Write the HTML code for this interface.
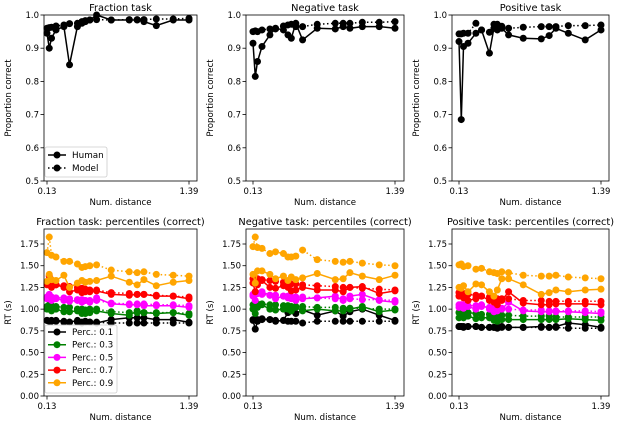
<!DOCTYPE html>
<html><head><meta charset="utf-8">
<style>
html,body{margin:0;padding:0;background:#fff;}
svg{display:block;font-family:"DejaVu Sans","Liberation Sans",sans-serif;}
</style></head>
<body>
<svg id="fig" width="621" height="423" viewBox="0 0 621 423" xmlns="http://www.w3.org/2000/svg"></svg>
<script>
const distances=[0.13,0.15,0.17,0.21,0.28,0.33,0.40,0.44,0.47,0.51,0.57,0.70,0.86,0.93,0.99,1.10,1.25,1.39];
const taskTitles=["Fraction task","Negative task","Positive task"];
const accTicks=[0.5,0.6,0.7,0.8,0.9,1.0];
const rtTicks=[0,0.25,0.5,0.75,1.0,1.25,1.5,1.75];
const percLabels=["0.1","0.3","0.5","0.7","0.9"];
const percColors=["#000000","#008000","#ff00ff","#ff0000","#ffa500"];
const fracHuman=[0.945,0.90,0.93,0.955,0.965,0.85,0.965,0.975,0.98,0.985,1.0,0.985,0.985,0.985,0.98,0.968,0.985,0.985];
const fracModel=[0.96,0.962,0.963,0.967,0.97,0.974,0.975,0.98,0.983,0.985,0.986,0.985,0.986,0.986,0.986,0.988,0.988,0.99];
const negHuman=[0.915,0.815,0.86,0.905,0.94,0.96,0.955,0.94,0.93,0.975,0.925,0.96,0.958,0.965,0.96,0.965,0.965,0.96];
const negModel=[0.95,0.952,0.95,0.955,0.958,0.958,0.967,0.97,0.972,0.965,0.965,0.972,0.975,0.975,0.975,0.978,0.978,0.98];
const posHuman=[0.92,0.685,0.905,0.915,0.945,0.955,0.885,0.96,0.955,0.96,0.94,0.93,0.928,0.938,0.96,0.945,0.925,0.955];
const posModel=[0.943,0.943,0.945,0.945,0.975,0.955,0.948,0.972,0.972,0.966,0.96,0.963,0.965,0.965,0.965,0.968,0.968,0.97];
const fracRtHuman=[
[0.87,0.86,0.87,0.87,0.86,0.85,0.87,0.84,0.86,0.85,0.84,0.88,0.90,0.90,0.90,0.88,0.88,0.85],
[1.00,1.05,0.98,1.0,0.97,0.97,0.98,0.95,0.95,0.96,0.98,0.95,0.93,0.98,0.96,0.95,0.96,0.93],
[1.12,1.17,1.1,1.12,1.10,1.09,1.10,1.08,1.10,1.08,1.13,1.06,1.05,1.05,1.04,1.04,1.04,1.02],
[1.28,1.38,1.25,1.28,1.25,1.20,1.22,1.19,1.20,1.20,1.21,1.17,1.16,1.17,1.17,1.15,1.15,1.12],
[1.32,1.40,1.34,1.33,1.39,1.25,1.30,1.33,1.31,1.32,1.33,1.38,1.31,1.28,1.34,1.27,1.31,1.33]];
const fracRtModel=[
[0.87,0.86,0.86,0.86,0.85,0.85,0.85,0.85,0.85,0.85,0.85,0.84,0.84,0.84,0.84,0.84,0.84,0.84],
[1.03,1.03,1.04,1.03,1.02,1.02,1.0,1.0,0.99,1.0,1.0,0.97,0.96,0.96,0.96,0.96,0.96,0.95],
[1.14,1.14,1.14,1.13,1.13,1.12,1.11,1.11,1.10,1.10,1.10,1.07,1.06,1.06,1.06,1.05,1.05,1.04],
[1.30,1.30,1.29,1.28,1.27,1.26,1.25,1.24,1.23,1.22,1.22,1.19,1.18,1.17,1.17,1.16,1.15,1.14],
[1.65,1.83,1.62,1.60,1.55,1.55,1.52,1.48,1.49,1.50,1.51,1.45,1.43,1.42,1.43,1.40,1.39,1.38]];
const negRtHuman=[
[0.87,0.77,0.86,0.88,0.88,0.86,0.87,0.96,0.99,0.95,0.99,0.93,0.98,0.92,0.97,1.0,0.93,0.87],
[1.00,0.95,1.02,1.05,1.0,0.99,1.0,1.0,0.98,1.02,0.98,1.0,0.98,0.98,1.00,1.03,0.97,0.99],
[1.15,1.10,1.18,1.20,1.16,1.12,1.15,1.13,1.12,1.10,1.12,1.13,1.15,1.10,1.15,1.17,1.10,1.08],
[1.30,1.20,1.28,1.33,1.25,1.24,1.27,1.25,1.21,1.22,1.25,1.22,1.22,1.20,1.25,1.26,1.18,1.21],
[1.40,1.30,1.44,1.44,1.40,1.35,1.38,1.33,1.37,1.34,1.36,1.41,1.34,1.35,1.42,1.38,1.34,1.39]];
const negRtModel=[
[0.88,0.88,0.88,0.89,0.88,0.87,0.87,0.86,0.86,0.86,0.84,0.86,0.86,0.86,0.86,0.86,0.86,0.86],
[1.05,1.05,1.06,1.06,1.05,1.05,1.04,1.04,1.03,1.03,1.03,1.02,1.02,1.01,1.01,1.01,1.00,1.00],
[1.17,1.17,1.18,1.17,1.16,1.16,1.15,1.15,1.14,1.14,1.14,1.13,1.12,1.12,1.12,1.11,1.11,1.10],
[1.35,1.35,1.35,1.34,1.33,1.32,1.31,1.30,1.29,1.29,1.28,1.27,1.26,1.25,1.25,1.24,1.23,1.22],
[1.72,1.83,1.71,1.70,1.64,1.66,1.64,1.60,1.60,1.61,1.68,1.57,1.55,1.54,1.55,1.53,1.51,1.50]];
const posRtHuman=[
[0.80,0.80,0.79,0.80,0.80,0.79,0.79,0.79,0.78,0.80,0.79,0.79,0.80,0.79,0.80,0.84,0.82,0.79],
[0.90,0.95,0.90,0.92,0.89,0.90,0.90,0.87,0.86,0.88,0.88,0.88,0.88,0.88,0.88,0.89,0.88,0.87],
[1.02,1.05,1.01,1.03,1.00,1.05,1.00,0.97,0.98,1.00,1.08,0.98,0.97,0.97,0.97,0.97,0.96,0.95],
[1.15,1.18,1.13,1.10,1.12,1.15,1.10,1.08,1.05,1.10,1.20,1.07,1.05,1.05,1.06,1.06,1.06,1.05],
[1.25,1.24,1.27,1.20,1.29,1.28,1.20,1.15,1.22,1.35,1.35,1.28,1.17,1.19,1.22,1.20,1.22,1.23]];
const posRtModel=[
[0.80,0.80,0.80,0.80,0.80,0.79,0.79,0.79,0.79,0.79,0.79,0.79,0.79,0.79,0.79,0.78,0.78,0.78],
[0.96,0.96,0.96,0.96,0.95,0.94,0.94,0.93,0.93,0.93,0.93,0.92,0.92,0.92,0.91,0.91,0.91,0.91],
[1.05,1.05,1.05,1.04,1.04,1.03,1.02,1.02,1.01,1.01,1.00,0.99,0.99,0.98,0.98,0.98,0.98,0.97],
[1.19,1.19,1.18,1.17,1.16,1.15,1.14,1.13,1.12,1.12,1.12,1.10,1.10,1.09,1.09,1.09,1.09,1.09],
[1.51,1.52,1.49,1.50,1.46,1.47,1.43,1.42,1.41,1.43,1.42,1.39,1.38,1.38,1.39,1.37,1.36,1.35]];

const svg=document.getElementById('fig');
const NS="http://www.w3.org/2000/svg";
function mk(tag,attrs,parent){const e=document.createElementNS(NS,tag);for(const k in attrs)e.setAttribute(k,attrs[k]);(parent||svg).appendChild(e);return e;}
function txt(x,y,s,size,anchor,parent,rot){const t=mk('text',{x:x,y:y,'font-size':size,'text-anchor':anchor||'middle',fill:'#000'},parent);if(rot)t.setAttribute('transform','rotate(-90 '+x+' '+y+')');t.textContent=s;return t;}

const panelsX=[{l:44,r:197,x0:47,x1:189},{l:246,r:404,x0:253,x1:395},{l:452,r:609,x0:459,x1:601}];
const accData=[[fracHuman,fracModel],[negHuman,negModel],[posHuman,posModel]];
const rtData=[[fracRtHuman,fracRtModel],[negRtHuman,negRtModel],[posRtHuman,posRtModel]];
const slugs=["fraction","negative","positive"];

function drawSeries(g,xs,ys,xf,yf,color,dotted,name){
  const pts=xs.map((d,i)=>xf(d).toFixed(1)+','+yf(ys[i]).toFixed(1)).join(' ');
  const pl=mk('polyline',{points:pts,fill:'none',stroke:color,'stroke-width':1.5},g);
  if(dotted)pl.setAttribute('stroke-dasharray','1.5,2.5');
  
  
  xs.forEach((d,i)=>{
    const c=mk('circle',{cx:xf(d),cy:yf(ys[i]),r:3.5,fill:color},g);
    
    
  });
}

function axesFrame(g,P,top,bot,ticks,yf,fmt,title,ylab){
  txt((P.l+P.r)/2,top-4,title,9.8,'middle',g);
  ticks.forEach(t=>{
    const y=yf(t);
    mk('line',{x1:P.l-3.5,x2:P.l,y1:y,y2:y,stroke:'#000','stroke-width':0.8},g);
    txt(P.l-5,y+3,fmt(t),8.5,'end',g);
  });
  [[P.x0,'0.13'],[P.x1,'1.39']].forEach(([x,s])=>{
    mk('line',{x1:x,x2:x,y1:bot,y2:bot+3.5,stroke:'#000','stroke-width':0.8},g);
    txt(x,bot+13,s,8.5,'middle',g);
  });
  txt((P.l+P.r)/2,bot+24,'Num. distance',8.6,'middle',g);
  txt(P.l-33,(top+bot)/2,ylab,8.6,'middle',g,true);
}

for(let p=0;p<3;p++){
  const P=panelsX[p];const top=15,bot=181;
  const g=mk('g',{});
  
  
  const xf=d=>P.x0+(d-0.13)/(1.39-0.13)*(P.x1-P.x0);
  const yf=v=>bot-(v-0.5)/0.5*(bot-top);
  axesFrame(g,P,top,bot,accTicks,yf,t=>t.toFixed(1),taskTitles[p],'Proportion correct');
  drawSeries(g,distances,accData[p][1],xf,yf,'#000',true,'model-accuracy');
  drawSeries(g,distances,accData[p][0],xf,yf,'#000',false,'human-accuracy');
  mk('rect',{x:P.l,y:top,width:P.r-P.l,height:bot-top,fill:'none',stroke:'#000','stroke-width':0.8},g);
}
for(let p=0;p<3;p++){
  const P=panelsX[p];const top=229,bot=396;
  const g=mk('g',{});
  
  
  const xf=d=>P.x0+(d-0.13)/(1.39-0.13)*(P.x1-P.x0);
  const yf=v=>bot-v/1.75*(bot-244);
  axesFrame(g,P,top,bot,rtTicks,yf,t=>t.toFixed(2),taskTitles[p]+': percentiles (correct)','RT (s)');
  for(let k=0;k<5;k++){
    drawSeries(g,distances,rtData[p][1][k],xf,yf,percColors[k],true,'model-rt-p'+percLabels[k]);
    drawSeries(g,distances,rtData[p][0][k],xf,yf,percColors[k],false,'human-rt-p'+percLabels[k]);
  }
  mk('rect',{x:P.l,y:top,width:P.r-P.l,height:bot-top,fill:'none',stroke:'#000','stroke-width':0.8},g);
}
const lg1=mk('g',{});


mk('rect',{x:45,y:147,width:62,height:30,rx:2,fill:'#fff','fill-opacity':0.85,stroke:'#ccc','stroke-width':0.8},lg1);
[['Human',false],['Model',true]].forEach(([s,d],i)=>{
  const y=155+i*13;
  const l=mk('line',{x1:48,x2:66,y1:y,y2:y,stroke:'#000','stroke-width':1.5},lg1);
  if(d)l.setAttribute('stroke-dasharray','1.5,2.5');
  mk('circle',{cx:57,cy:y,r:3.5,fill:'#000'},lg1);
  const t=txt(72,y+3,s,8.8,'start',lg1);
  
});
const lg2=mk('g',{});


mk('rect',{x:45,y:325,width:72,height:68,rx:2,fill:'#fff','fill-opacity':0.85,stroke:'#ccc','stroke-width':0.8},lg2);
percLabels.forEach((s,i)=>{
  const y=332+i*12.7;
  mk('line',{x1:48,x2:66,y1:y,y2:y,stroke:percColors[i],'stroke-width':1.5},lg2);
  mk('circle',{cx:57,cy:y,r:3.5,fill:percColors[i]},lg2);
  const t=txt(72,y+3,'Perc.: '+s,8.8,'start',lg2);
  
});
</script>
</body></html>
